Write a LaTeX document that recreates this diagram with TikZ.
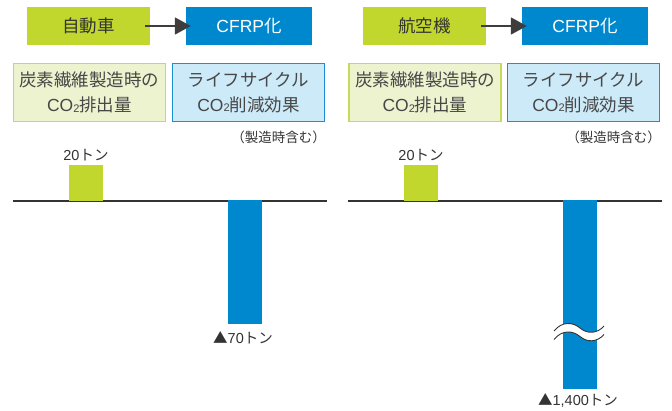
\documentclass[tikz,border=0pt]{standalone}
\usepackage{fontspec}
\setmainfont{Noto Sans CJK JP}
\newfontfamily\lat{Liberation Sans}
\usetikzlibrary{arrows.meta}
\definecolor{limeg}{HTML}{C1D72E}
\definecolor{cblue}{HTML}{0088CE}
\definecolor{lgfill}{HTML}{EDF2CF}
\definecolor{lgline}{HTML}{C6DA5A}
\definecolor{lbfill}{HTML}{CDEAF8}
\definecolor{lbline}{HTML}{1D8FD5}
\definecolor{txt}{HTML}{333333}
\newcommand{\cotwo}{{\lat CO\raisebox{-0.5pt}{\fontsize{11}{11}\selectfont 2}}}
\begin{document}
\begin{tikzpicture}[x=1pt,y=-1pt,
  topg/.style={fill=limeg, minimum width=123pt, minimum height=38pt, inner sep=0pt, text=txt, font=\fontsize{17.5}{18}\selectfont},
  topb/.style={fill=cblue, minimum width=126pt, minimum height=38pt, inner sep=0pt, text=white, font=\fontsize{17.5}{18}\selectfont},
  boxg/.style={fill=lgfill, draw=lgline, line width=1.2pt, minimum width=152pt, minimum height=58pt, inner sep=0pt, align=center, text=txt!90, font=\fontsize{17.5}{25}\selectfont},
  boxb/.style={fill=lbfill, draw=lbline, line width=1.2pt, minimum width=152pt, minimum height=58pt, inner sep=0pt, align=center, text=txt!90, font=\fontsize{17.5}{25}\selectfont},
  note/.style={text=txt, inner sep=0pt, font=\fontsize{13.5}{15}\selectfont},
  val/.style={text=txt, inner sep=0pt, font=\fontsize{14.5}{16}\selectfont},
  arr/.style={line width=1.8pt, draw=txt!95, -{Triangle[length=16pt,width=17pt]}},
  axis/.style={line width=1.5pt, draw=txt},
  wave/.style={line width=0.9pt, draw=txt}
]
\useasboundingbox (0,0) rectangle (672,410);

% ---------- left panel ----------
\node[topg] (car) at (88.5,26) {自動車};
\node[topb] (cfrpa) at (249,26) {{\lat CFRP}化};
\draw[arr, shorten <=-5pt, shorten >=-5pt] (car.east) -- (cfrpa.west);
\node[boxg] (emia) at (89.5,92.5) {炭素繊維製造時の\\\cotwo 排出量};
\node[boxb] (reda) at (248.5,92.5) {ライフサイクル\\\cotwo 削減効果};
\node[note, anchor=east] (noa) at (326,137) {（製造時含む）};
\coordinate (axl1) at (13,201);
\coordinate (axr1) at (327,201);
\draw[axis] (axl1) -- (axr1);
\fill[limeg] (69,165) rectangle (103,201);
\fill[cblue] (228,200) rectangle (262,324);
\node[val] (va1) at (86,155) {{\lat 20}トン};
\node[val] (vb1) at (243,338) {▲{\lat 70}トン};

% ---------- right panel ----------
\node[topg] (plane) at (424.5,26) {航空機};
\node[topb] (cfrpb) at (585,26) {{\lat CFRP}化};
\draw[arr, shorten <=-5pt, shorten >=-5pt] (plane.east) -- (cfrpb.west);
\node[boxg] (emib) at (425,92.5) {炭素繊維製造時の\\\cotwo 排出量};
\node[boxb] (redb) at (583.5,92.5) {ライフサイクル\\\cotwo 削減効果};
\node[note, anchor=east] (nob) at (661,137) {（製造時含む）};
\coordinate (axl2) at (348,201);
\coordinate (axr2) at (662,201);
\draw[axis] (axl2) -- (axr2);
\fill[limeg] (404,165) rectangle (438,201);
\fill[cblue] (563,200) rectangle (597,389);
\node[val] (va2) at (421,155) {{\lat 20}トン};
\node[val] (vb2) at (578,400) {▲{\lat 1,400}トン};

% break mark
\fill[white] (554,331) .. controls (562,321) and (573,322) .. (580,328)
  .. controls (587,334) and (597,334) .. (604,326)
  -- (604,334.5) .. controls (597,342.5) and (587,342.5) .. (580,336.5)
  .. controls (573,330.5) and (562,329.5) .. (554,339.5) -- cycle;
\draw[wave] (554,331) .. controls (562,321) and (573,322) .. (580,328)
  .. controls (587,334) and (597,334) .. (604,326);
\draw[wave] (554,339.5) .. controls (562,329.5) and (573,330.5) .. (580,336.5)
  .. controls (587,342.5) and (597,342.5) .. (604,334.5);
\end{tikzpicture}
\end{document}
